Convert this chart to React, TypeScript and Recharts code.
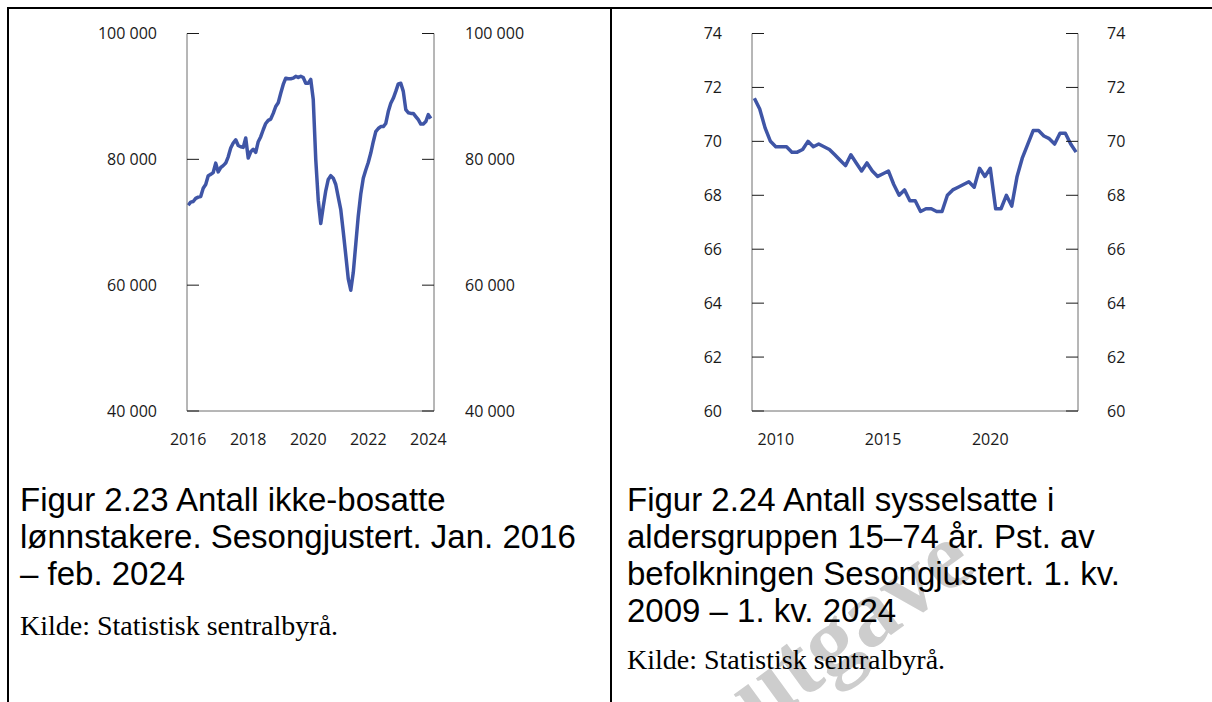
import { Line, LineChart, XAxis, YAxis } from "recharts";

// Figur 2.23: ikke-bosatte lønnstakere, månedlig jan. 2016 – feb. 2024
const ikkeBosatteStart = 2016;
const ikkeBosatte = [
  72700, 73200, 73300, 73800, 74000, 74100, 75400, 76000, 77400, 77600, 77900, 79400,
  78000, 78700, 79000, 79400, 80400, 81800, 82600, 83100, 82200, 82000, 81900, 83400,
  80200, 81200, 81600, 81100, 82800, 83600, 84700, 85700, 86200, 86400, 87300, 88400,
  89000, 90500, 91900, 92900, 92800, 92800, 92900, 93200, 93000, 93200, 93000, 92100,
  92100, 92700, 89500, 80000, 73500, 69800, 72500, 75000, 76800, 77400, 77000, 76000,
  74000, 72000, 68500, 64800, 61000, 59200, 62000, 66500, 71000, 74500, 77000, 78300,
  79500, 81000, 82800, 84400, 84900, 85200, 85200, 85700, 87600, 88900, 89700, 90800,
  92000, 92100, 90800, 87900, 87400, 87300, 87300, 86800, 86300, 85600, 85600, 86000,
  87100, 86500
];
const ikkeBosatteYTicks = [40000, 60000, 80000, 100000];
const ikkeBosatteXTicks = [2016, 2018, 2020, 2022, 2024];

// Figur 2.24: sysselsatte 15–74 år, kvartalsvis 1. kv. 2009 – 1. kv. 2024
const sysselsatteStart = 2009;
const sysselsatte = [
  71.6, 71.2, 70.5, 70.0, 69.8, 69.8, 69.8, 69.6, 69.6, 69.7, 70.0, 69.8,
  69.9, 69.8, 69.7, 69.5, 69.3, 69.1, 69.5, 69.2, 68.9, 69.2, 68.9, 68.7,
  68.8, 68.9, 68.4, 68.0, 68.2, 67.8, 67.8, 67.4, 67.5, 67.5, 67.4, 67.4,
  68.0, 68.2, 68.3, 68.4, 68.5, 68.3, 69.0, 68.7, 69.0, 67.5, 67.5, 68.0,
  67.6, 68.7, 69.4, 69.9, 70.4, 70.4, 70.2, 70.1, 69.9, 70.3, 70.3, 69.9,
  69.6
];
const sysselsatteYTicks = [60, 62, 64, 66, 68, 70, 72, 74];
const sysselsatteXTicks = [2010, 2015, 2020];

const caption1 = [
  "Figur 2.23 Antall ikke-bosatte",
  "lønnstakere. Sesongjustert. Jan. 2016",
  "– feb. 2024"
];
const caption2 = [
  "Figur 2.24 Antall sysselsatte i",
  "aldersgruppen 15–74 år. Pst. av",
  "befolkningen Sesongjustert. 1. kv.",
  "2009 – 1. kv. 2024"
];
const source = "Kilde: Statistisk sentralbyrå.";

const lineColor = "#3f55a6";
const tickStyle = { fontFamily: "'Open Sans', sans-serif", fontSize: 16, fill: "#1a1a1a" };
const axisLine = { stroke: "#6e6e6e", strokeWidth: 1 };
const tickLine = { stroke: "#1a1a1a", strokeWidth: 1 };

const monthly = ikkeBosatte.map((v, i) => ({ t: ikkeBosatteStart + i / 12, v }));
const quarterly = sysselsatte.map((v, i) => ({ t: sysselsatteStart + i / 4, v }));

const spaced = (v: number) => String(v).replace(/\B(?=(\d{3})+(?!\d))/g, "\u00a0");

function Caption({ lines, left, top }: { lines: string[]; left: number; top: number }) {
  return (
    <div
      style={{
        position: "absolute",
        left,
        top,
        fontFamily: "'Liberation Sans', Arial, sans-serif",
        fontSize: 33,
        lineHeight: "37px",
        color: "#000",
        whiteSpace: "nowrap"
      }}
    >
      {lines.map((l) => (
        <div key={l}>{l}</div>
      ))}
    </div>
  );
}

function Source({ left, top }: { left: number; top: number }) {
  return (
    <div
      style={{
        position: "absolute",
        left,
        top,
        fontFamily: "'Liberation Serif', 'Times New Roman', serif",
        fontSize: 28,
        lineHeight: "28px",
        color: "#000",
        whiteSpace: "nowrap"
      }}
    >
      {source}
    </div>
  );
}

export default function App() {
  return (
    <div
      style={{
        position: "absolute",
        left: 0,
        top: 0,
        width: 1212,
        height: 702,
        background: "#fff",
        overflow: "hidden"
      }}
    >
      {/* watermark */}
      <div
        style={{
          position: "absolute",
          left: 768,
          top: 648,
          fontFamily: "'Liberation Serif', serif",
          fontWeight: "bold",
          fontSize: 96,
          lineHeight: "96px",
          color: "#cdcdcd",
          transform: "rotate(-36deg)",
          transformOrigin: "left bottom",
          whiteSpace: "nowrap"
        }}
      >
        utgave
      </div>

      {/* frame lines */}
      <div style={{ position: "absolute", left: 7, top: 7, width: 1205, height: 2, background: "#000" }} />
      <div style={{ position: "absolute", left: 7, top: 7, width: 2, height: 695, background: "#000" }} />
      <div style={{ position: "absolute", left: 610, top: 7, width: 2, height: 695, background: "#000" }} />

      <LineChart
        width={454}
        height={452}
        data={monthly}
        margin={{ top: 33.5, right: 0, bottom: 0, left: 0 }}
        style={{ position: "absolute", left: 80, top: 0 }}
      >
        <XAxis
          dataKey="t"
          type="number"
          domain={[2015.96, 2024.19]}
          ticks={ikkeBosatteXTicks}
          interval={0}
          height={41}
          tickSize={0}
          tickMargin={23}
          tickLine={false}
          axisLine={axisLine}
          tick={tickStyle}
        />
        <YAxis
          yAxisId="l"
          type="number"
          width={107}
          domain={[40000, 100000]}
          ticks={ikkeBosatteYTicks}
          interval={0}
          tickSize={-12}
          tickMargin={42}
          axisLine={axisLine}
          tickLine={tickLine}
          tick={tickStyle}
          tickFormatter={spaced}
        />
        <YAxis
          yAxisId="r"
          orientation="right"
          type="number"
          width={100}
          domain={[40000, 100000]}
          ticks={ikkeBosatteYTicks}
          interval={0}
          tickSize={-12}
          tickMargin={43}
          axisLine={axisLine}
          tickLine={tickLine}
          tick={{ ...tickStyle, textAnchor: "start" }}
          tickFormatter={spaced}
        />
        <Line
          yAxisId="r"
          dataKey="v"
          stroke="none"
          dot={false}
          activeDot={false}
          legendType="none"
          isAnimationActive={false}
        />
        <Line
          yAxisId="l"
          type="linear"
          dataKey="v"
          stroke={lineColor}
          strokeWidth={3.5}
          strokeLinejoin="round"
          dot={false}
          isAnimationActive={false}
        />
      </LineChart>

      <LineChart
        width={498}
        height={452}
        data={quarterly}
        margin={{ top: 33.5, right: 0, bottom: 0, left: 0 }}
        style={{ position: "absolute", left: 660, top: 0 }}
      >
        <XAxis
          dataKey="t"
          type="number"
          domain={[2008.89, 2024.09]}
          ticks={sysselsatteXTicks}
          interval={0}
          height={41}
          tickSize={0}
          tickMargin={23}
          tickLine={false}
          axisLine={axisLine}
          tick={tickStyle}
        />
        <YAxis
          yAxisId="l"
          type="number"
          width={92}
          domain={[60, 74]}
          ticks={sysselsatteYTicks}
          interval={0}
          tickSize={-12}
          tickMargin={42}
          axisLine={axisLine}
          tickLine={tickLine}
          tick={tickStyle}
        />
        <YAxis
          yAxisId="r"
          orientation="right"
          type="number"
          width={80}
          domain={[60, 74]}
          ticks={sysselsatteYTicks}
          interval={0}
          tickSize={-12}
          tickMargin={41}
          axisLine={axisLine}
          tickLine={tickLine}
          tick={{ ...tickStyle, textAnchor: "start" }}
        />
        <Line
          yAxisId="r"
          dataKey="v"
          stroke="none"
          dot={false}
          activeDot={false}
          legendType="none"
          isAnimationActive={false}
        />
        <Line
          yAxisId="l"
          type="linear"
          dataKey="v"
          stroke={lineColor}
          strokeWidth={3.5}
          strokeLinejoin="round"
          dot={false}
          isAnimationActive={false}
        />
      </LineChart>

      <Caption lines={caption1} left={20} top={481} />
      <Source left={20} top={612} />
      <Caption lines={caption2} left={627} top={481} />
      <Source left={627} top={646} />
    </div>
  );
}
